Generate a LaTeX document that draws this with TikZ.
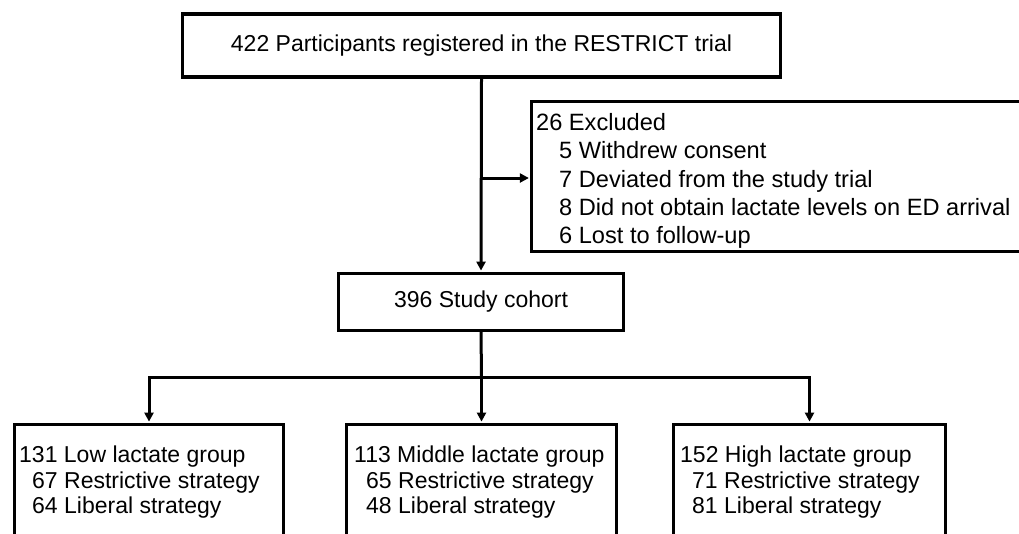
\documentclass[tikz,border=0pt]{standalone}
\usepackage{fontspec}
\setmainfont{Liberation Sans}
\usetikzlibrary{arrows.meta,calc}
\tikzset{
  box/.style={draw=black, line width=3.4pt, fill=white, inner sep=0pt},
  txt/.style={inner sep=0pt, anchor=base west, font=\fontsize{23}{27}\selectfont},
  etxt/.style={inner sep=0pt, anchor=base west, font=\fontsize{23.6}{28}\selectfont},
  ctxt/.style={inner sep=0pt, font=\fontsize{23}{27}\selectfont},
  conn/.style={line width=3pt},
  arr/.style={line width=3pt, -{Triangle[length=9pt,width=9pt]}, shorten >=1.2pt},
}
\begin{document}
\begin{tikzpicture}[x=1pt,y=-1pt]
\clip (0,0) rectangle (1019,533);
\fill[white] (0,0) rectangle (1019,533);
% boxes
\node[box, minimum width=598pt, minimum height=63pt] (top) at (481.5,45.5) {};
\node[box, minimum width=285pt, minimum height=57pt] (study) at (481,302) {};
\node[box, minimum width=498pt, minimum height=150pt] (exc) at (780.75,176.5) {};
\node[box, minimum width=269pt, minimum height=136pt] (low) at (149,492.5) {};
\node[box, minimum width=270pt, minimum height=136pt] (mid) at (481.5,492.5) {};
\node[box, minimum width=272pt, minimum height=136pt] (high) at (809.5,492.5) {};
% texts
\node[ctxt] (toptxt) at (top.center) {422 Participants registered in the RESTRICT trial};
\node[ctxt] (studytxt) at (study.center) {396 Study cohort};
\node[etxt] (e0) at (536,130) {26 Excluded};
\node[etxt] (e1) at (559,158) {5 Withdrew consent};
\node[etxt] (e2) at (559,187) {7 Deviated from the study trial};
\node[etxt] (e3) at (559,215) {8 Did not obtain lactate levels on ED arrival};
\node[etxt] (e4) at (559,243) {6 Lost to follow-up};
\node[txt] (l0) at (19,462) {131 Low lactate group};
\node[txt] (l1) at (32,488) {67 Restrictive strategy};
\node[txt] (l2) at (32,513) {64 Liberal strategy};
\node[txt] (m0) at (354,462) {113 Middle lactate group};
\node[txt] (m1) at (366,488) {65 Restrictive strategy};
\node[txt] (m2) at (366,513) {48 Liberal strategy};
\node[txt] (h0) at (680,462) {152 High lactate group};
\node[txt] (h1) at (692,488) {71 Restrictive strategy};
\node[txt] (h2) at (692,513) {81 Liberal strategy};
% connectors
\coordinate (j1) at (top.south |- 0,178);
\coordinate (j2) at (481.5,377);
\draw[arr] (top.south) -- (study.north);
\draw[arr] (j1) -- (exc.west |- j1);
\draw[conn] (study.south) -- (j2);
\draw[arr] (j2) -- (mid.north);
\draw[arr] (j2) -| (low.north);
\draw[arr] (j2) -| (high.north);
\end{tikzpicture}
\end{document}
